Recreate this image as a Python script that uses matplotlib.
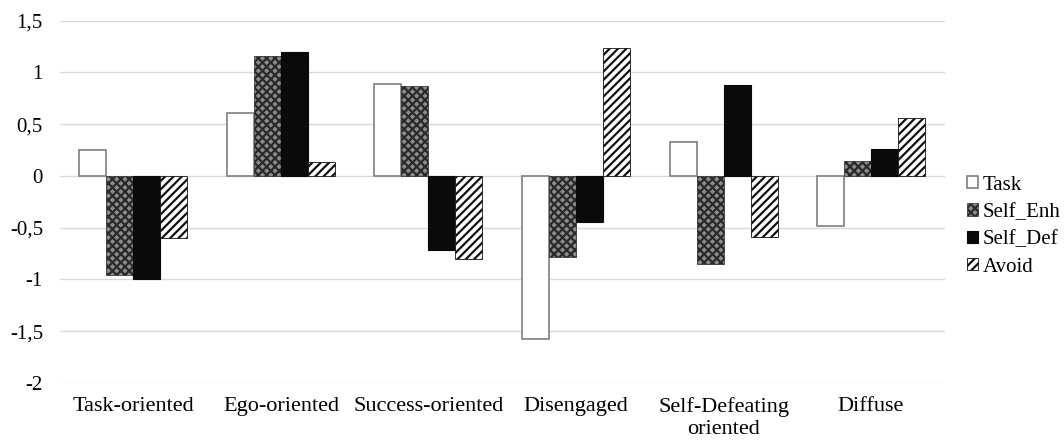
import matplotlib
matplotlib.use('Agg')
import matplotlib.pyplot as plt
import numpy as np

plt.rcParams['font.family'] = ['Liberation Serif', 'DejaVu Serif']
plt.rcParams['hatch.linewidth'] = 1.6

# données
groupes = ['Task-oriented', 'Ego-oriented', 'Success-oriented', 'Disengaged',
           'Self-Defeating\noriented', 'Diffuse']
task = [0.25, 0.61, 0.89, -1.58, 0.33, -0.48]
self_enh = [-0.96, 1.16, 0.87, -0.78, -0.85, 0.14]
self_def = [-1.00, 1.20, -0.72, -0.45, 0.88, 0.26]
avoid = [-0.60, 0.13, -0.80, 1.24, -0.59, 0.56]
yticks = [-2, -1.5, -1, -0.5, 0, 0.5, 1, 1.5]
ytick_labels = ['-2', '-1,5', '-1', '-0,5', '0', '0,5', '1', '1,5']

fig = plt.figure(figsize=(10.64, 4.41), dpi=100)
ax = fig.add_axes([0.056, 0.132, 0.832, 0.821])

x = np.arange(len(groupes))
w = 0.183

ax.bar(x - 1.5 * w, task, w, facecolor='white', edgecolor='#7f7f7f',
       linewidth=1.2, label='Task', zorder=3)
ax.bar(x - 0.5 * w, self_enh, w, facecolor='#8c8c8c', edgecolor='#2a2a2a',
       hatch='xxxx', linewidth=0.5, label='Self_Enh', zorder=3)
ax.bar(x + 0.5 * w, self_def, w, facecolor='#0a0a0a', edgecolor='#0a0a0a',
       linewidth=0.8, label='Self_Def', zorder=3)
ax.bar(x + 1.5 * w, avoid, w, facecolor='white', edgecolor='#111111',
       hatch='////', linewidth=0.6, label='Avoid', zorder=3)

ax.set_xlim(-0.5, len(groupes) - 0.5)
ax.set_ylim(-2, 1.5)
ax.set_yticks(yticks)
ax.set_yticklabels(ytick_labels, fontsize=15)
ax.set_xticks(x)
ax.set_xticklabels(groupes, fontsize=16, linespacing=1.25)
ax.tick_params(axis='x', length=0, pad=10)
ax.tick_params(axis='y', length=0, pad=12)
ax.grid(axis='y', color='#d9d9d9', linewidth=1.0, zorder=0)
for s in ax.spines.values():
    s.set_visible(False)

ax.legend(loc='center left', bbox_to_anchor=(1.025, 0.433), frameon=False,
          fontsize=15, handlelength=0.55, handleheight=0.55, handletextpad=0.2,
          labelspacing=0.4, borderaxespad=0, borderpad=0)

plt.savefig('out.png', dpi=100)
